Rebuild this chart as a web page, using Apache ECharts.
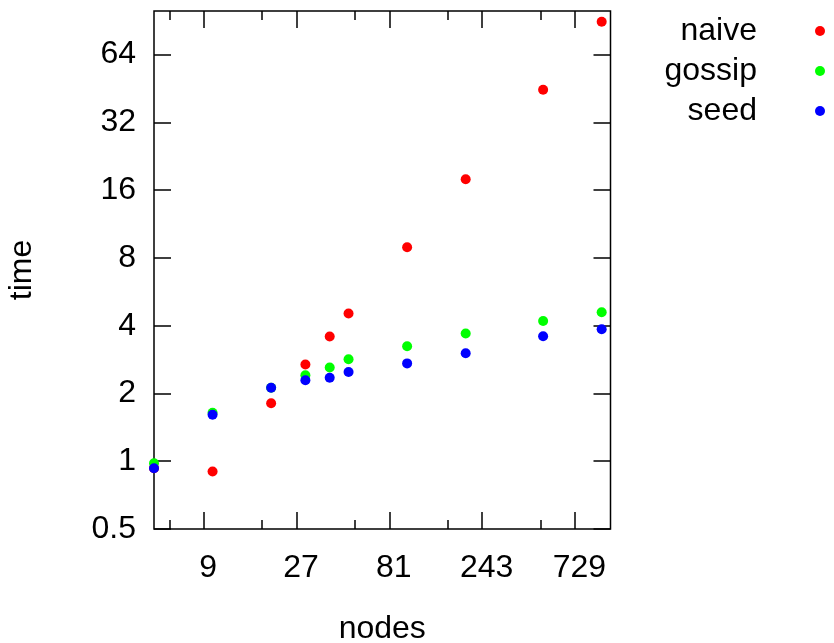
<!DOCTYPE html>
<html>
<head>
<meta charset="utf-8">
<script src="https://cdn.jsdelivr.net/npm/echarts@6/dist/echarts.min.js"></script>
<style>
html,body{margin:0;padding:0;background:#fff;}
#chart{width:834px;height:643px;}
</style>
</head>
<body>
<div id="chart"></div>
<script>
// Data
const nodes = [5, 10, 20, 30, 40, 50, 100, 200, 500, 1000];
const naive = [0.93, 0.90, 1.81, 2.69, 3.58, 4.53, 8.92, 17.9, 44.7, 89.6];
const gossip = [0.98, 1.64, 2.12, 2.41, 2.61, 2.84, 3.24, 3.69, 4.20, 4.59];
const seed = [0.93, 1.61, 2.12, 2.29, 2.35, 2.49, 2.72, 3.02, 3.59, 3.86];

const xMajorTicks = [9, 27, 81, 243, 729];
const xMinorTicks = [6, 18, 54, 162, 486];
const yTicks = [0.5, 1, 2, 4, 8, 16, 32, 64];

const FONT = 'Liberation Sans';
const X_MIN = 5, X_MAX = 1110, Y_MIN = 0.5, Y_MAX = 100;

function pairs(ys) { return nodes.map((n, i) => [n, ys[i]]); }

function xAxis(pos, ticks, len, withLabels) {
  const a = {
    type: 'log', logBase: 3, position: pos, min: X_MIN, max: X_MAX,
    axisLine: { show: false },
    splitLine: { show: false },
    axisTick: { show: true, inside: true, length: len, customValues: ticks,
                lineStyle: { color: '#000', width: 1.5 } },
    axisLabel: { show: false }
  };
  if (withLabels) {
    a.axisLabel = {
      show: true, customValues: ticks, fontFamily: FONT, fontSize: 32, color: '#000',
      margin: 23, padding: [0, 0, 0, 9],
      formatter: v => String(Math.round(v))
    };
    a.name = 'nodes';
    a.nameLocation = 'middle';
    a.nameGap = 84;
    a.nameTextStyle = { fontFamily: FONT, fontSize: 32, color: '#000' };
  }
  return a;
}

function yAxis(pos, withLabels) {
  const a = {
    type: 'log', logBase: 2, position: pos, min: Y_MIN, max: Y_MAX,
    axisLine: { show: false },
    splitLine: { show: false },
    axisTick: { show: true, inside: true, length: 17, customValues: yTicks,
                lineStyle: { color: '#000', width: 1.5 } },
    axisLabel: { show: false }
  };
  if (withLabels) {
    a.axisLabel = {
      show: true, customValues: yTicks, fontFamily: FONT, fontSize: 32, color: '#000',
      margin: 18,
      formatter: v => (v < 1 ? String(Math.round(v * 10) / 10) : String(Math.round(v)))
    };
    a.name = 'time';
    a.nameLocation = 'middle';
    a.nameGap = 116;
    a.nameTextStyle = { fontFamily: FONT, fontSize: 32, color: '#000' };
  }
  return a;
}

const chart = echarts.init(document.getElementById('chart'), null, { renderer: 'canvas' });
chart.setOption({
  animation: false,
  backgroundColor: '#fff',
  grid: { left: 154, top: 11, right: 223.5, bottom: 114, show: true,
          outerBoundsMode: 'none', containLabel: false,
          borderColor: '#000', borderWidth: 1.5, backgroundColor: 'transparent' },
  legend: {
    orient: 'vertical', align: 'right', right: 9, top: 11, padding: 0, itemGap: 0,
    icon: 'circle', itemWidth: 10, itemHeight: 10,
    textStyle: { fontFamily: FONT, fontSize: 32, color: '#000', lineHeight: 40,
                 padding: [0, 53, 0, 0] },
    data: ['naive', 'gossip', 'seed']
  },
  xAxis: [
    xAxis('bottom', xMajorTicks, 17, true),
    xAxis('bottom', xMinorTicks, 9, false),
    xAxis('top', xMajorTicks, 17, false),
    xAxis('top', xMinorTicks, 9, false)
  ],
  yAxis: [
    yAxis('left', true),
    yAxis('right', false)
  ],
  series: [
    { name: 'naive', type: 'scatter', symbol: 'circle', symbolSize: 10,
      itemStyle: { color: '#ff0000', opacity: 1 }, data: pairs(naive) },
    { name: 'gossip', type: 'scatter', symbol: 'circle', symbolSize: 10,
      itemStyle: { color: '#00ff00', opacity: 1 }, data: pairs(gossip) },
    { name: 'seed', type: 'scatter', symbol: 'circle', symbolSize: 10,
      itemStyle: { color: '#0000ff', opacity: 1 }, data: pairs(seed) }
  ]
});
</script>
</body>
</html>
